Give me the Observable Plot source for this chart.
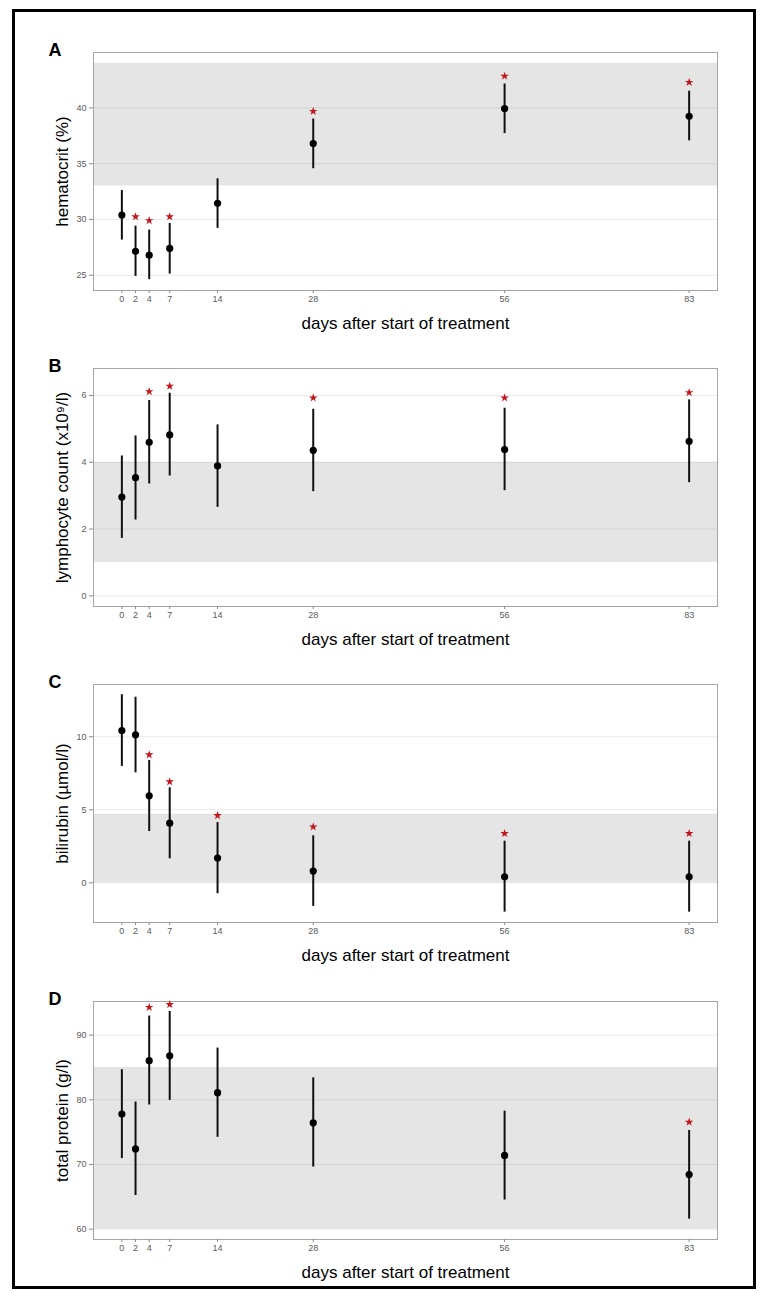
<!DOCTYPE html>
<html>
<head>
<meta charset="utf-8">
<script src="https://cdn.jsdelivr.net/npm/d3@7"></script>
<script src="https://cdn.jsdelivr.net/npm/@observablehq/plot@0.6"></script>
<style>
  html, body { margin: 0; padding: 0; background: #fff; }
  #page { position: relative; width: 768px; height: 1301px; font-family: "Liberation Sans", Arial, sans-serif; }
  #frame { position: absolute; left: 12px; top: 9px; width: 744px; height: 1280px; box-sizing: border-box; border: 3px solid #000; }
  .panel { position: absolute; left: 0; }
</style>
</head>
<body>
<div id="page"><div id="frame"></div></div>
<script>
// ---- data ----
const days = [0, 2, 4, 7, 14, 28, 56, 83];
const dayTicks = [0, 2, 4, 7, 14, 28, 56, 83];
const xLabel = "days after start of treatment";

const panelLetters = ["A", "B", "C", "D"];
const yLabels = ["hematocrit (%)", "lymphocyte count (x10\u2079/l)", "bilirubin (\u00b5mol/l)", "total protein (g/l)"];

const hematocritMean = [30.4, 27.15, 26.8, 27.4, 31.45, 36.8, 39.95, 39.25];
const hematocritLo   = [28.15, 24.9, 24.6, 25.1, 29.2, 34.55, 37.7, 37.05];
const hematocritHi   = [32.6, 29.4, 29.05, 29.65, 33.65, 39.0, 42.15, 41.5];
const hematocritStar = [null, 30.25, 29.9, 30.25, null, 39.7, 42.85, 42.3];
const hematocritBand = [33, 44];
const hematocritTicks = [25, 30, 35, 40];

const lymphMean = [2.96, 3.54, 4.60, 4.82, 3.89, 4.36, 4.38, 4.63];
const lymphLo   = [1.72, 2.27, 3.35, 3.59, 2.65, 3.12, 3.15, 3.39];
const lymphHi   = [4.19, 4.79, 5.85, 6.07, 5.12, 5.59, 5.62, 5.87];
const lymphStar = [null, null, 6.12, 6.28, null, 5.93, 5.93, 6.09];
const lymphBand = [1, 4];
const lymphTicks = [0, 2, 4, 6];

const biliMean = [10.43, 10.14, 5.96, 4.08, 1.69, 0.80, 0.41, 0.41];
const biliLo   = [7.97, 7.53, 3.51, 1.64, -0.75, -1.62, -2.01, -2.01];
const biliHi   = [12.88, 12.71, 8.38, 6.51, 4.13, 3.22, 2.85, 2.85];
const biliStar = [null, null, 8.77, 6.92, 4.61, 3.83, 3.38, 3.38];
const biliBand = [0, 4.7];
const biliTicks = [0, 5, 10];

const proteinMean = [77.8, 72.4, 86.05, 86.8, 81.1, 76.45, 71.4, 68.45];
const proteinLo   = [70.9, 65.2, 79.2, 79.9, 74.2, 69.6, 64.5, 61.55];
const proteinHi   = [84.65, 79.65, 92.95, 93.65, 88.0, 83.4, 78.25, 75.25];
const proteinStar = [null, null, 94.3, 94.75, null, null, null, 76.55];
const proteinBand = [60, 85];
const proteinTicks = [60, 70, 80, 90];

const yDomains = [[23.63, 44.97], [-0.32, 6.81], [-2.72, 13.58], [58.4, 95.2]];
const xDomain = [-4.15, 87.15];

// ---- layout ----
const W = 768, mL = 93, mR = 51, mT = 22, mB = 50, plotH = 238;
const plotTops = [52, 368.2, 684.2, 1000.6];

const panels = [
  [hematocritMean, hematocritLo, hematocritHi, hematocritStar, hematocritBand, hematocritTicks],
  [lymphMean, lymphLo, lymphHi, lymphStar, lymphBand, lymphTicks],
  [biliMean, biliLo, biliHi, biliStar, biliBand, biliTicks],
  [proteinMean, proteinLo, proteinHi, proteinStar, proteinBand, proteinTicks]
];

const page = document.getElementById("page");

panels.forEach(([mean, lo, hi, star, band, ticks], i) => {
  const rows = days.map((d, j) => ({day: d, mean: mean[j], lo: lo[j], hi: hi[j], star: star[j]}));
  const stars = rows.filter(r => r.star != null);
  const chart = Plot.plot({
    width: W,
    height: mT + plotH + mB,
    marginLeft: mL, marginRight: mR, marginTop: mT, marginBottom: mB,
    style: {fontFamily: "'Liberation Sans', Arial, sans-serif", background: "transparent", overflow: "visible"},
    x: {domain: xDomain, axis: null},
    y: {domain: yDomains[i], axis: null},
    marks: [
      Plot.gridY(ticks, {stroke: "#ebebeb", strokeOpacity: 1, strokeWidth: 1}),
      Plot.rect([{lo: band[0], hi: band[1]}], {y1: "lo", y2: "hi", fill: "#000", fillOpacity: 0.1}),
      Plot.frame({stroke: "#a6a6a6", strokeWidth: 1}),
      Plot.axisX({ticks: dayTicks, tickFormat: d => String(d), tickSize: 3, tickPadding: 2, fontSize: 9, stroke: "#8a8a8a", fill: "#5a5a5a", label: null}),
      Plot.axisY({ticks: ticks, tickFormat: d => String(d), tickSize: 4, tickPadding: 3, fontSize: 9, stroke: "#8a8a8a", fill: "#5a5a5a", label: null}),
      Plot.ruleX(rows, {x: "day", y1: "lo", y2: "hi", stroke: "#111", strokeWidth: 2}),
      Plot.dot(rows, {x: "day", y: "mean", r: 3.6, fill: "#000", stroke: "none"}),
      Plot.dot(stars, {x: "day", y: "star", r: 2.7, symbol: "star", fill: "#c3161c", stroke: "none"}),
      Plot.text([xLabel], {frameAnchor: "bottom", text: d => d, dy: 32.6, lineAnchor: "middle", textAnchor: "middle", fontSize: 17, fill: "#000"}),
      Plot.text([yLabels[i]], {frameAnchor: "left", text: d => d, dx: -30.5, rotate: -90, lineAnchor: "middle", textAnchor: "middle", fontSize: 17, fill: "#000"}),
      Plot.text([panelLetters[i]], {frameAnchor: "top-left", text: d => d, dx: -45, dy: -2.6, lineAnchor: "middle", textAnchor: "start", fontSize: 18, fontWeight: "bold", fill: "#000"})
    ]
  });
  chart.classList.add("panel");
  chart.style.top = (plotTops[i] - mT) + "px";
  page.appendChild(chart);
});
</script>
</body>
</html>
